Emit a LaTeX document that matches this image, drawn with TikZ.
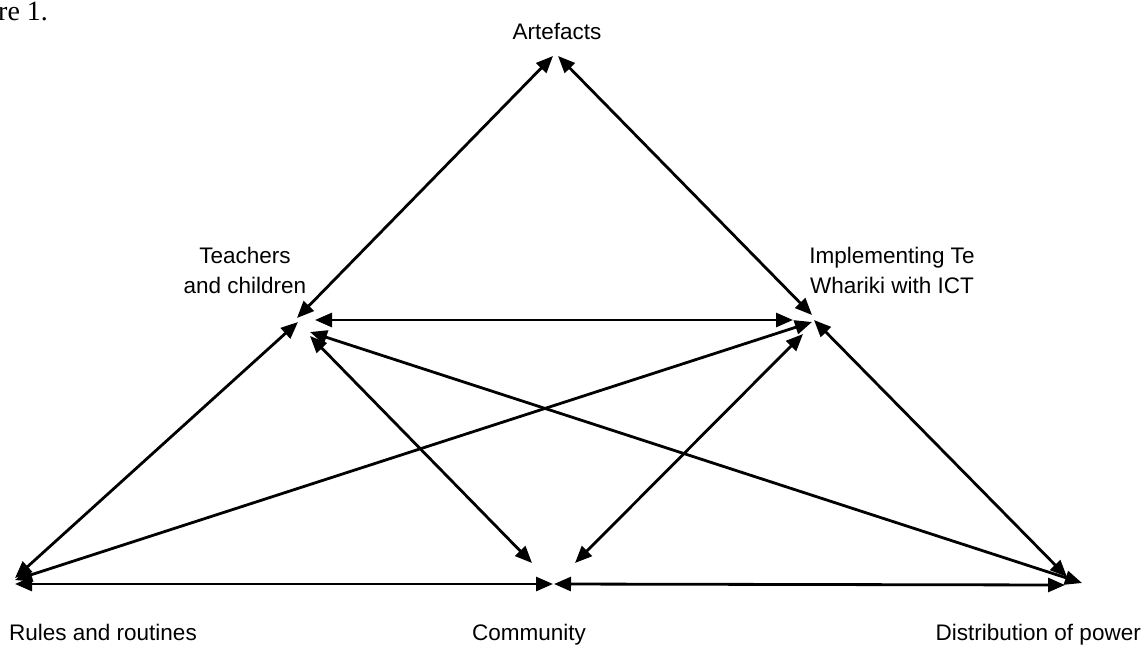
\documentclass[tikz,border=0pt]{standalone}
\usepackage{fontspec}
\setmainfont{Liberation Sans}
\newfontfamily\serifcap{Liberation Serif}
\usetikzlibrary{arrows.meta}
\begin{document}
\begin{tikzpicture}[x=1pt,y=-1pt,
  conn/.style={line width=2.8pt,{Triangle[length=17pt,width=14pt]}-{Triangle[length=17pt,width=14pt]}},
  lbl/.style={font=\fontsize{22.5}{30}\selectfont,inner sep=0pt,align=center}]
\useasboundingbox (0,0) rectangle (1146,651);
% labels
\node[lbl,anchor=base west,font=\serifcap\fontsize{28}{30}\selectfont] (fig) at (-2,20) {re 1.};
\node[lbl,anchor=base] (art) at (557,39) {Artefacts};
\node[lbl] (tch) at (245,270) {Teachers\\and children};
\node[lbl] (imp) at (892,270) {Implementing Te\\Whariki with ICT};
\node[lbl,anchor=base west] (rul) at (9,640) {Rules and routines};
\node[lbl,anchor=base] (com) at (529,640) {Community};
\node[lbl,anchor=base east] (dis) at (1141,640) {Distribution of power};
% connector ends
\coordinate (A1) at (553,56);
\coordinate (A2) at (558,56);
\coordinate (T1) at (297,318);
\coordinate (T2) at (298,322);
\coordinate (T3) at (315,320);
\coordinate (T4) at (310,332);
\coordinate (T5) at (310,336);
\coordinate (I1) at (812,315);
\coordinate (I2) at (793,320);
\coordinate (I3) at (812,322);
\coordinate (I4) at (803,334);
\coordinate (I5) at (814,320);
\coordinate (R1) at (15,578);
\coordinate (R2) at (15,580);
\coordinate (R3) at (15,584);
\coordinate (C1) at (553,584);
\coordinate (C2) at (554,584);
\coordinate (C3) at (532,563);
\coordinate (C4) at (575,563);
\coordinate (D1) at (1067,577);
\coordinate (D2) at (1082,583);
\coordinate (D3) at (1065,585);
% connectors
\draw[conn] (A1) -- (T1);
\draw[conn] (A2) -- (I1);
\draw[conn] (T2) -- (R1);
\draw[conn] (I5) -- (D1);
\draw[conn] (T3) -- (I2);
\draw[conn] (R2) -- (I3);
\draw[conn] (T4) -- (D2);
\draw[conn] (T5) -- (C3);
\draw[conn] (I4) -- (C4);
\draw[conn] (R3) -- (C1);
\draw[conn] (C2) -- (D3);
\end{tikzpicture}
\end{document}
